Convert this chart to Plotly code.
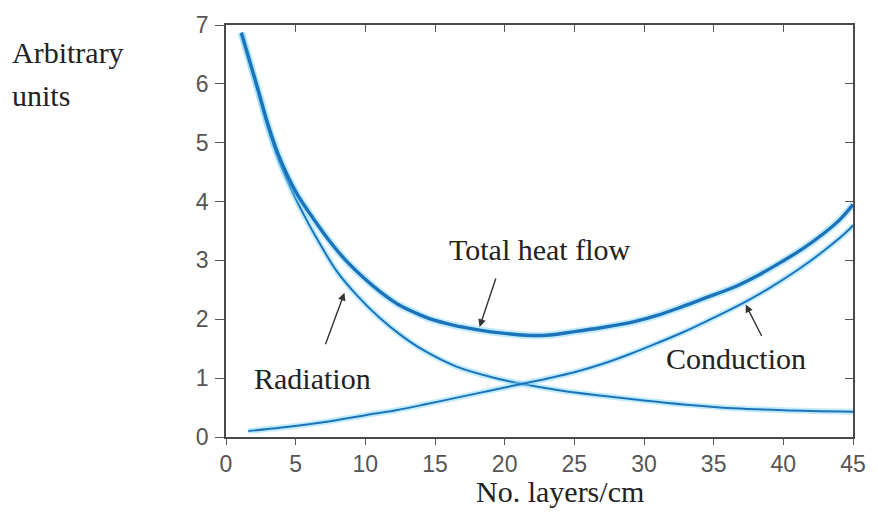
import plotly.graph_objects as go

# Data
rad_x = [1.1, 2.3, 3.0, 3.8, 4.7, 5.6, 6.5, 8, 9.5, 11, 12.5, 14.2, 16.5, 19, 21.3, 24, 27, 30, 33, 36.4, 40, 45]
rad_y = [6.87, 5.86, 5.26, 4.70, 4.20, 3.77, 3.38, 2.80, 2.38, 2.03, 1.74, 1.47, 1.20, 1.02, 0.90, 0.79, 0.70, 0.62, 0.55, 0.49, 0.455, 0.43]

cond_x = [1.6, 4, 7.25, 10, 12.3, 14.4, 17, 19, 21.3, 23, 25, 27, 29, 31, 32.8, 34.6, 36.4, 37.6, 39, 41.1, 43, 44.7, 45]
cond_y = [0.10, 0.16, 0.26, 0.37, 0.46, 0.56, 0.69, 0.79, 0.905, 0.99, 1.10, 1.24, 1.41, 1.60, 1.78, 1.98, 2.19, 2.34, 2.53, 2.85, 3.18, 3.52, 3.60]

tot_x = [1.1, 2.3, 3.0, 3.8, 5.0, 6.3, 7.4, 8.6, 9.9, 11.1, 12.3, 13.5, 14.6, 16.3, 18.1, 20, 21.5, 23, 25, 27, 29.3, 31,
         32.8, 34.6, 36.4, 38.2, 39.9, 41.4, 42.8, 44, 45]
tot_y = [6.87, 5.90, 5.32, 4.77, 4.17, 3.70, 3.34, 3.00, 2.70, 2.46, 2.26, 2.12, 2.01, 1.90, 1.82, 1.76, 1.73, 1.73, 1.79, 1.86,
         1.96, 2.07, 2.22, 2.38, 2.54, 2.75, 2.98, 3.20, 3.44, 3.68, 3.95]

x_ticks = [0, 5, 10, 15, 20, 25, 30, 35, 40, 45]
y_ticks = [0, 1, 2, 3, 4, 5, 6, 7]

LINE = "rgb(28,115,185)"
GLOW = "rgba(120,210,250,0.45)"
SERIF = "Liberation Serif, Times New Roman, serif"
SANS = "Liberation Sans, Arial, sans-serif"

fig = go.Figure()
for xs, ys, w in [(rad_x, rad_y, 2.0), (cond_x, cond_y, 2.0), (tot_x, tot_y, 3.4)]:
    fig.add_trace(go.Scatter(x=xs, y=ys, mode="lines", line=dict(color=GLOW, width=w + 4, shape="spline", smoothing=1.0),
                             hoverinfo="skip", showlegend=False))
    fig.add_trace(go.Scatter(x=xs, y=ys, mode="lines", line=dict(color=LINE, width=w, shape="spline", smoothing=1.0),
                             showlegend=False))

axis_common = dict(showgrid=False, zeroline=False, showline=True, linecolor="#4a4a4a", linewidth=1.6,
                   tickcolor="#555", tickwidth=1.3)

fig.update_layout(
    width=878, height=515,
    margin=dict(l=226, r=18, t=21, b=78),
    paper_bgcolor="white", plot_bgcolor="white",
    xaxis=dict(range=[0, 45], tickvals=x_ticks, ticks="outside", ticklen=6,
               tickfont=dict(family=SANS, size=23, color="#555"), ticklabelstandoff=0, **axis_common),
    yaxis=dict(range=[0, 7], tickvals=y_ticks, ticks="outside", ticklen=9,
               tickfont=dict(family=SANS, size=23, color="#555"), ticklabelstandoff=2, **axis_common),
    xaxis2=dict(range=[0, 45], tickvals=x_ticks, ticks="inside", ticklen=7, overlaying="x", side="top",
                showticklabels=False, matches="x", **axis_common),
    yaxis2=dict(range=[0, 7], tickvals=y_ticks, ticks="inside", ticklen=8, overlaying="y", side="right",
                showticklabels=False, matches="y", **axis_common),
)
# empty trace to anchor the mirrored axes
fig.add_trace(go.Scatter(x=[], y=[], xaxis="x2", yaxis="y2", showlegend=False))

ann_font = dict(family=SERIF, size=30, color="#222")
fig.add_annotation(x=22.5, y=3.18, text="Total heat flow", showarrow=False, font=ann_font)
fig.add_annotation(x=6.2, y=0.99, text="Radiation", showarrow=False, font=ann_font)
fig.add_annotation(x=36.6, y=1.34, text="Conduction", showarrow=False, font=ann_font)

# arrows
arrow_style = dict(text="", showarrow=True, arrowhead=2, arrowsize=1.1, arrowwidth=1.4, arrowcolor="#333",
                   axref="x", ayref="y")
fig.add_annotation(x=18.2, y=1.87, ax=19.4, ay=2.72, **arrow_style)
fig.add_annotation(x=8.5, y=2.45, ax=7.1, ay=1.55, **arrow_style)
fig.add_annotation(x=37.3, y=2.25, ax=38.5, ay=1.69, **arrow_style)

fig.add_annotation(xref="paper", yref="paper", x=-0.345, y=0.933, xanchor="left", yanchor="middle",
                   text="Arbitrary", showarrow=False, font=ann_font)
fig.add_annotation(xref="paper", yref="paper", x=-0.345, y=0.83, xanchor="left", yanchor="middle",
                   text="units", showarrow=False, font=ann_font)
fig.add_annotation(xref="paper", yref="paper", x=0.532, y=-0.132, xanchor="center", yanchor="middle",
                   text="No. layers/cm", showarrow=False, font=ann_font)

fig.write_html("out.html", config={"displayModeBar": False},
               post_script="document.body.style.margin='0';")
